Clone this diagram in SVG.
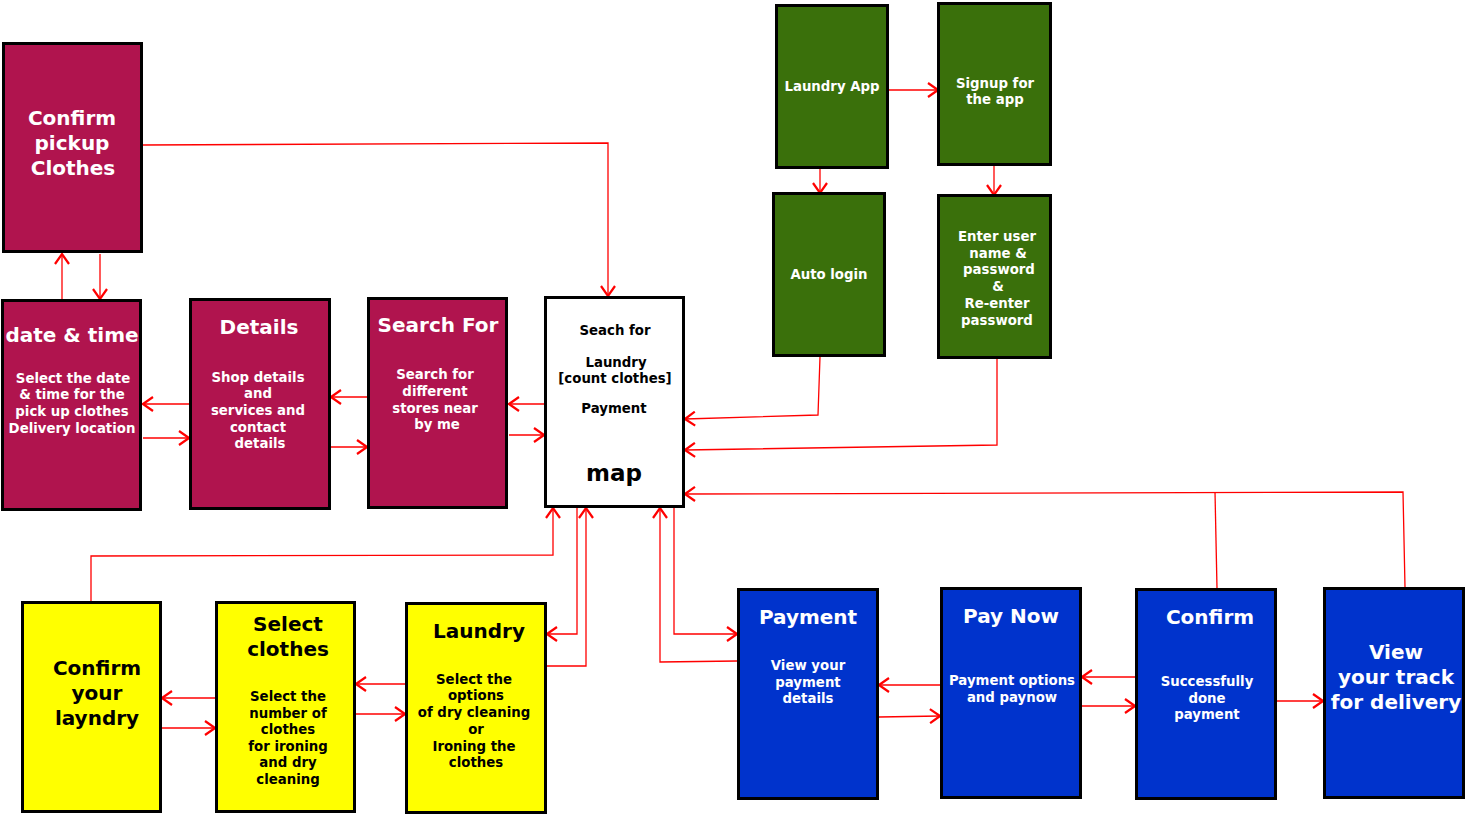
<svg xmlns="http://www.w3.org/2000/svg" width="1466" height="815" viewBox="0 0 1466 815">
<defs>
<marker id="ah" viewBox="0 0 12 16" refX="11" refY="8" markerWidth="12" markerHeight="16" markerUnits="userSpaceOnUse" orient="auto">
<path d="M1,1 L11,8 L1,15" fill="none" stroke="#FF0000" stroke-width="2.2"/>
</marker>
<style>
.box{stroke:#000;stroke-width:3}
.m{fill:#B0144E}.g{fill:#3A700B}.y{fill:#FFFF00}.b{fill:#0033CC}.w{fill:#FFFFFF}
text{font-family:"DejaVu Sans","Verdana",sans-serif;font-weight:bold;text-anchor:middle}
.t{font-size:20px}.s{font-size:13.3px}
.lw{fill:#FFFFFF}.lk{fill:#000000}
.c{fill:none;stroke:#FF0000;stroke-width:1.3}
.c.a{marker-end:url(#ah)}
</style>
</defs>
<rect width="1466" height="815" fill="#FFFFFF"/>
<g id="connectors">
<polyline class="c a" points="143,145 608,143 608,296"/>
<polyline class="c a" points="62,299 62,254"/>
<polyline class="c a" points="100,254 100,299"/>
<polyline class="c a" points="189,404 143,404"/>
<polyline class="c a" points="143,438 189,438"/>
<polyline class="c a" points="367,397 331,397"/>
<polyline class="c a" points="331,447 367,447"/>
<polyline class="c a" points="544,404 509,404"/>
<polyline class="c a" points="509,435 544,435"/>
<polyline class="c a" points="889,90 938,90"/>
<polyline class="c a" points="820,169 820,193"/>
<polyline class="c a" points="994,166 994,195"/>
<polyline class="c a" points="820,357 818,415 685,419"/>
<polyline class="c a" points="997,359 997,445 685,450"/>
<polyline class="c a" points="1405,587 1403,492 685,494"/>
<polyline class="c" points="1217,588 1215,492"/>
<polyline class="c a" points="91,601 91,556 553,555 553,508"/>
<polyline class="c a" points="577,508 577,634 547,634"/>
<polyline class="c a" points="547,666 586,666 586,508"/>
<polyline class="c a" points="737,661 660,662 660,508"/>
<polyline class="c a" points="674,508 674,634 737,634"/>
<polyline class="c a" points="215,698 162,698"/>
<polyline class="c a" points="162,728 215,728"/>
<polyline class="c a" points="405,684 356,684"/>
<polyline class="c a" points="356,714 405,714"/>
<polyline class="c a" points="940,685 879,685"/>
<polyline class="c a" points="879,717 940,716"/>
<polyline class="c a" points="1135,677 1082,677"/>
<polyline class="c a" points="1082,706 1135,706"/>
<polyline class="c a" points="1277,701 1323,701"/>
</g>
<g id="n-confirm-pickup">
<rect class="box m" x="3.5" y="43.5" width="138" height="208"/>
<text class="t lw" x="72" y="125">Confirm</text>
<text class="t lw" x="72" y="150">pickup</text>
<text class="t lw" x="73" y="175">Clothes</text>
</g>
<g id="n-date-time">
<rect class="box m" x="2.5" y="300.5" width="138" height="209"/>
<text class="t lw" x="72" y="342">date &amp; time</text>
<text class="s lw" x="73" y="383">Select the date</text>
<text class="s lw" x="72" y="399">&amp; time for the</text>
<text class="s lw" x="72" y="416">pick up clothes</text>
<text class="s lw" x="72" y="433">Delivery location</text>
</g>
<g id="n-details">
<rect class="box m" x="190.5" y="299.5" width="139" height="209"/>
<text class="t lw" x="259" y="334">Details</text>
<text class="s lw" x="258" y="382">Shop details</text>
<text class="s lw" x="258" y="398">and</text>
<text class="s lw" x="258" y="415">services and</text>
<text class="s lw" x="258" y="432">contact</text>
<text class="s lw" x="260" y="448">details</text>
</g>
<g id="n-search">
<rect class="box m" x="368.5" y="298.5" width="138" height="209"/>
<text class="t lw" x="438" y="332">Search For</text>
<text class="s lw" x="435" y="379">Search for</text>
<text class="s lw" x="435" y="396">different</text>
<text class="s lw" x="435" y="413">stores near</text>
<text class="s lw" x="437" y="429">by me</text>
</g>
<g id="n-map">
<rect class="box w" x="545.5" y="297.5" width="138" height="209"/>
<text class="s lk" x="615" y="335">Seach for</text>
<text class="s lk" x="616" y="367">Laundry</text>
<text class="s lk" x="615" y="383">[count clothes]</text>
<text class="s lk" x="614" y="413">Payment</text>
<text class="lk" x="614" y="481" style="font-size:23px">map</text>
</g>
<g id="n-laundry-app">
<rect class="box g" x="776.5" y="5.5" width="111" height="162"/>
<text class="s lw" x="832" y="91">Laundry App</text>
</g>
<g id="n-signup">
<rect class="box g" x="938.5" y="3.5" width="112" height="161"/>
<text class="s lw" x="995" y="88">Signup for</text>
<text class="s lw" x="995" y="104">the app</text>
</g>
<g id="n-auto-login">
<rect class="box g" x="773.5" y="193.5" width="111" height="162"/>
<text class="s lw" x="829" y="279">Auto login</text>
</g>
<g id="n-enter-user">
<rect class="box g" x="938.5" y="195.5" width="112" height="162"/>
<text class="s lw" x="997" y="241">Enter user</text>
<text class="s lw" x="998" y="258">name &amp;</text>
<text class="s lw" x="999" y="274">password</text>
<text class="s lw" x="998" y="291">&amp;</text>
<text class="s lw" x="997" y="308">Re-enter</text>
<text class="s lw" x="997" y="325">password</text>
</g>
<g id="n-confirm-laundry">
<rect class="box y" x="22.5" y="602.5" width="138" height="209"/>
<text class="t lk" x="97" y="675">Confirm</text>
<text class="t lk" x="97" y="700">your</text>
<text class="t lk" x="97" y="725">layndry</text>
</g>
<g id="n-select-clothes">
<rect class="box y" x="216.5" y="602.5" width="138" height="209"/>
<text class="t lk" x="288" y="631">Select</text>
<text class="t lk" x="288" y="656">clothes</text>
<text class="s lk" x="288" y="701">Select the</text>
<text class="s lk" x="288" y="718">number of</text>
<text class="s lk" x="288" y="734">clothes</text>
<text class="s lk" x="288" y="751">for ironing</text>
<text class="s lk" x="288" y="767">and dry</text>
<text class="s lk" x="288" y="784">cleaning</text>
</g>
<g id="n-laundry-options">
<rect class="box y" x="406.5" y="603.5" width="139" height="209"/>
<text class="t lk" x="479" y="638">Laundry</text>
<text class="s lk" x="474" y="684">Select the</text>
<text class="s lk" x="476" y="700">options</text>
<text class="s lk" x="474" y="717">of dry cleaning</text>
<text class="s lk" x="476" y="734">or</text>
<text class="s lk" x="474" y="751">Ironing the</text>
<text class="s lk" x="476" y="767">clothes</text>
</g>
<g id="n-payment">
<rect class="box b" x="738.5" y="589.5" width="139" height="209"/>
<text class="t lw" x="808" y="624">Payment</text>
<text class="s lw" x="808" y="670">View your</text>
<text class="s lw" x="808" y="687">payment</text>
<text class="s lw" x="808" y="703">details</text>
</g>
<g id="n-pay-now">
<rect class="box b" x="941.5" y="588.5" width="139" height="209"/>
<text class="t lw" x="1011" y="623">Pay Now</text>
<text class="s lw" x="1012" y="685">Payment options</text>
<text class="s lw" x="1012" y="702">and paynow</text>
</g>
<g id="n-confirm-payment">
<rect class="box b" x="1136.5" y="589.5" width="139" height="209"/>
<text class="t lw" x="1210" y="624">Confirm</text>
<text class="s lw" x="1207" y="686">Successfully</text>
<text class="s lw" x="1207" y="703">done</text>
<text class="s lw" x="1207" y="719">payment</text>
</g>
<g id="n-view-track">
<rect class="box b" x="1324.5" y="588.5" width="139" height="209"/>
<text class="t lw" x="1396" y="659">View</text>
<text class="t lw" x="1396" y="684">your track</text>
<text class="t lw" x="1396" y="709">for delivery</text>
</g>
</svg>
